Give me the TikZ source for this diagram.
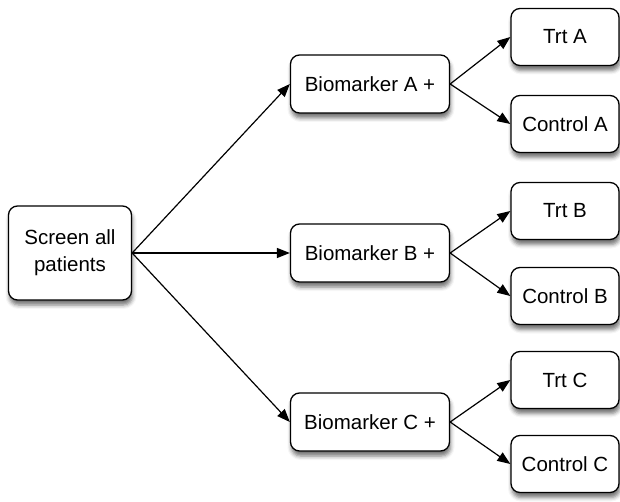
\documentclass[tikz,border=0pt]{standalone}
\usepackage{fontspec}
\setmainfont{Liberation Sans}
\usetikzlibrary{shadows.blur,arrows.meta}
\begin{document}
\begin{tikzpicture}[x=1pt,y=-1pt,
  box/.style={draw=black, line width=1.3pt, rounded corners=9pt, fill=white, align=center,
    font=\fontsize{20.5}{27}\selectfont, inner sep=0pt,
    blur shadow={shadow opacity=55, shadow xshift=1pt, shadow yshift=-5pt, shadow blur radius=4pt}},
  arr/.style={-{Triangle[length=13pt,width=10pt]}, line width=1.2pt}]
\useasboundingbox (0,0) rectangle (620,502);
\node[box, minimum width=123pt, minimum height=94pt] (s) at (70,253) {Screen all\\patients};
\node[box, minimum width=159pt, minimum height=58pt] (ba) at (370,84) {Biomarker A +};
\node[box, minimum width=159pt, minimum height=58pt] (bb) at (370,253) {Biomarker B +};
\node[box, minimum width=159pt, minimum height=58pt] (bc) at (370,422) {Biomarker C +};
\node[box, minimum width=108pt, minimum height=57pt] (ta) at (565,37) {Trt A};
\node[box, minimum width=108pt, minimum height=57pt] (ca) at (565,124) {Control A};
\node[box, minimum width=108pt, minimum height=57pt] (tb) at (565,211) {Trt B};
\node[box, minimum width=108pt, minimum height=57pt] (cb) at (565,296) {Control B};
\node[box, minimum width=108pt, minimum height=57pt] (tc) at (565,380) {Trt C};
\node[box, minimum width=108pt, minimum height=57pt] (cc) at (565,464) {Control C};
\foreach \b in {ba,bb,bc} \draw[arr] (s.east) -- (\b.west);
\draw[arr] (ba.east) -- (ta.west);
\draw[arr] (ba.east) -- (ca.west);
\draw[arr] (bb.east) -- (tb.west);
\draw[arr] (bb.east) -- (cb.west);
\draw[arr] (bc.east) -- (tc.west);
\draw[arr] (bc.east) -- (cc.west);
\end{tikzpicture}
\end{document}
